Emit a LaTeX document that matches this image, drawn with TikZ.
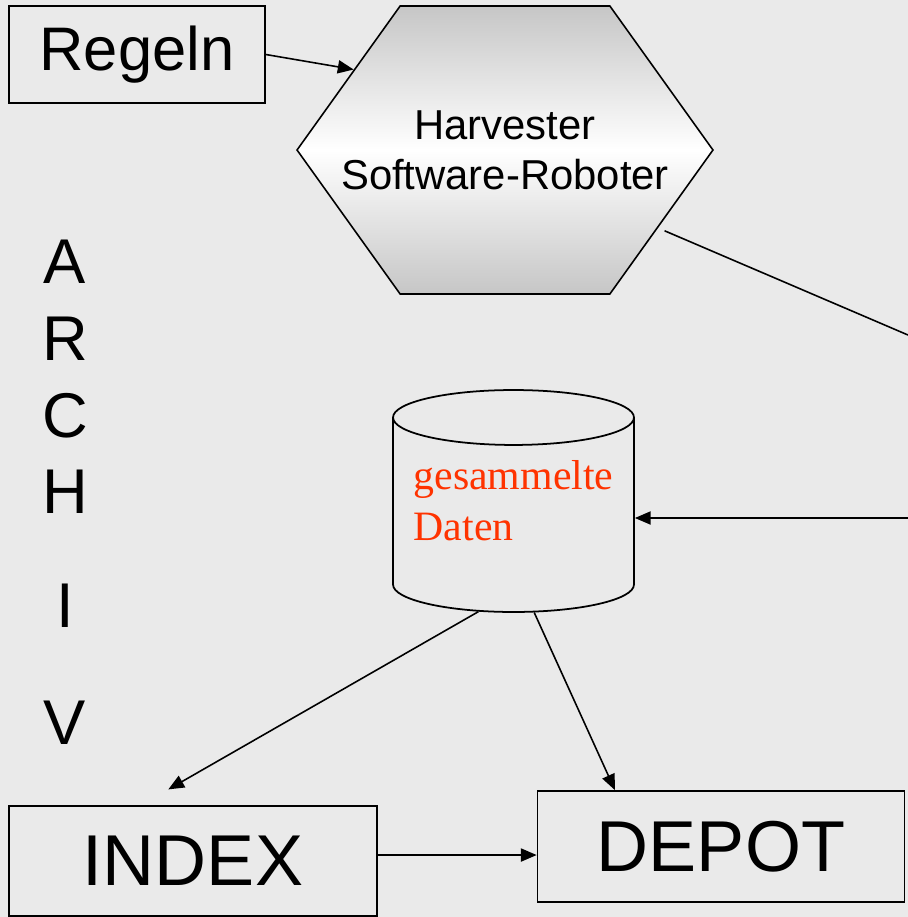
\documentclass[tikz,border=0pt]{standalone}
\usepackage{fontspec}
\setmainfont{Liberation Sans}
\newfontfamily\serifdaten{Liberation Serif}
\usetikzlibrary{arrows.meta,shapes.geometric,shapes.symbols}

\definecolor{bggray}{RGB}{234,234,234}
\definecolor{hexgray}{RGB}{198,198,198}
\definecolor{datenred}{RGB}{255,51,0}

\begin{document}
\begin{tikzpicture}[
        x=0.02cm, y=-0.02cm,
        box/.style={rectangle, draw, line width=1pt, inner sep=0pt},
        robot/.style={signal, signal to=west and east, signal pointer angle=108.8, draw, line width=0.9pt, top color=hexgray, bottom color=hexgray, middle color=white, minimum width=8.32cm, minimum height=5.76cm, inner sep=0pt},
        robottext/.style={align=center, font=\fontsize{23.8}{28.3}\selectfont},
        store/.style={cylinder, shape border rotate=90, aspect=0.275, draw, line width=1pt, minimum width=4.82cm, minimum height=4.44cm, inner sep=0pt, align=left, text depth=17pt, text=datenred, font=\serifdaten\fontsize{23.8}{29}\selectfont},
        arr/.style={-{Triangle[length=9pt,width=7.5pt]}, line width=0.9pt}
    ]

        \useasboundingbox (0,0) rectangle (908,917);
        \fill[bggray] (0,0) rectangle (908,917);

        % Regeln and the harvester
        \node[box, minimum width=5.12cm, minimum height=1.94cm, font=\fontsize{35}{42}\selectfont] (regeln) at (137,54.5) {Regeln};
        \node[robot, label={[robottext]center:{Harvester\\Software-Roboter}}] (harvester) at (505,150) {};
        \draw[arr] (regeln.east) -- (harvester.152);

        % lines leaving the picture on the right
        \coordinate (crawlout) at (908,335);
        \coordinate (crawlin) at (908,518);
        \draw[line width=0.9pt, shorten <=4pt] (harvester.-27) -- (crawlout);

        % collected data
        \node[store, anchor=shape center] (daten) at (513.5,501) {gesammelte\\Daten};
        \draw[arr] (crawlin) -- (crawlin -| daten.0);

        % ARCHIV, written downwards
        \node[anchor=north, inner sep=0pt, align=center, font=\fontsize{36}{43.6}\selectfont] (archiv) at (65,240) {A\\R\\C\\H\\[21pt]I\\[23pt]V};

        % INDEX and DEPOT
        \node[box, minimum width=7.36cm, minimum height=2.2cm, font=\fontsize{41}{49}\selectfont] (index) at (193,861) {INDEX};
        \node[box, minimum width=7.34cm, minimum height=2.22cm, font=\fontsize{41}{49}\selectfont] (depot) at (721,846.5) {DEPOT};
        \draw[arr, shorten >=18pt] (daten.250) -- (index.133);
        \draw[arr] (daten.282) -- (depot.152);
        \draw[arr] ([yshift=3.4pt]index.east) -- ([yshift=3.4pt]index.east -| depot.west);

    \end{tikzpicture}
\end{document}
